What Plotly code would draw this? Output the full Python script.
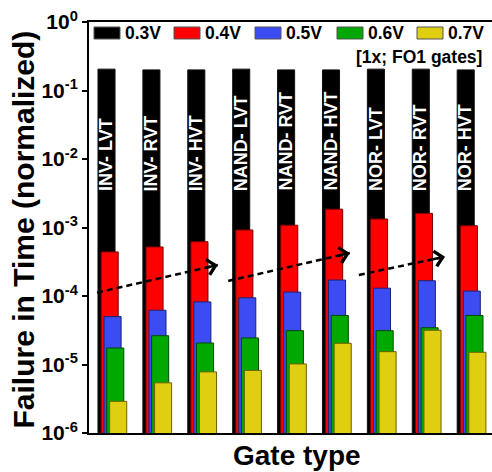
import math
import plotly.graph_objects as go

# ---- data ----
gates = ["INV- LVT", "INV- RVT", "INV- HVT", "NAND- LVT", "NAND- RVT",
         "NAND- HVT", "NOR- LVT", "NOR- RVT", "NOR- HVT"]
voltages = ["0.3V", "0.4V", "0.5V", "0.6V", "0.7V"]
fit_03 = [0.205, 0.200, 0.200, 0.205, 0.200, 0.200, 0.205, 0.205, 0.200]
fit_04 = [4.4e-4, 5.2e-4, 6.2e-4, 9.2e-4, 1.08e-3, 1.85e-3, 1.33e-3, 1.61e-3, 1.06e-3]
fit_05 = [5.0e-5, 6.2e-5, 8.2e-5, 9.4e-5, 1.14e-4, 1.71e-4, 1.30e-4, 1.67e-4, 1.18e-4]
fit_06 = [1.74e-5, 2.63e-5, 2.06e-5, 2.44e-5, 3.12e-5, 5.2e-5, 3.12e-5, 3.44e-5, 5.2e-5]
fit_07 = [2.9e-6, 5.4e-6, 7.8e-6, 8.2e-6, 1.02e-5, 2.04e-5, 1.54e-5, 3.16e-5, 1.51e-5]
series = [fit_03, fit_04, fit_05, fit_06, fit_07]
y_tick_vals = [1e-6, 1e-5, 1e-4, 1e-3, 1e-2, 1e-1, 1e0]
y_tick_text = ["10<sup>-6</sup>", "10<sup>-5</sup>", "10<sup>-4</sup>", "10<sup>-3</sup>",
               "10<sup>-2</sup>", "10<sup>-1</sup>", "10<sup>0</sup>"]
note_text = "[1x; FO1 gates]"
x_title = "Gate type"
y_title = "Failure in Time (normalized)"

# trend arrows: (x_start, y_start, x_end, y_end)
trend_arrows = [(-0.21, 1.12e-4, 2.48, 2.84e-4),
                (2.71, 1.66e-4, 5.42, 4.25e-4),
                (5.62, 2.03e-4, 7.54, 3.75e-4)]

# ---- styles ----
fills = ["#000000", "#FF0000", "#3A4CF2", "#00A800", "#E0CE10"]
edges = ["#111111", "#7A0000", "#1A2470", "#004A00", "#6A6000"]
offsets = [-0.19, -0.12, -0.055, 0.005, 0.07]
BAR_W = 0.38
FONT = "Liberation Sans"

W, H = 492, 472
ML, MR, MT, MB = 89, 0, 22, 39
PW, PH = W - ML - MR, H - MT - MB
PX_PER_X = 44.9
PX_PER_DEC = PH / 6.0


def px_x(p):
    return (p - ML) / PW


def px_y(p):
    return (H - MB - p) / PH


fig = go.Figure()
xs = list(range(len(gates)))
for k, vals in enumerate(series):
    fig.add_trace(go.Bar(
        x=xs, y=vals, name=voltages[k], width=BAR_W, offset=offsets[k],
        marker=dict(color=fills[k], line=dict(color=edges[k], width=1)),
        showlegend=False, hoverinfo="x+y"))

annotations = []
# labels inside black bars
for i, g in enumerate(gates):
    annotations.append(dict(
        x=i, y=-2.496, xref="x", yref="y", text=g, textangle=-90,
        showarrow=False, xanchor="center", yanchor="bottom",
        font=dict(family=FONT, size=18, color="white", weight="bold")))

# dashed trend arrows
for (x0, y0, x1, y1) in trend_arrows:
    fig.add_trace(go.Scatter(
        x=[x0, x1], y=[y0, y1], mode="lines",
        line=dict(color="black", width=2.5, dash="6px,4px"),
        showlegend=False, hoverinfo="skip"))
    ly0, ly1 = math.log10(y0), math.log10(y1)
    dx = (x1 - x0) * PX_PER_X
    dy = -(ly1 - ly0) * PX_PER_DEC
    n = math.hypot(dx, dy)
    tail = 14.0
    annotations.append(dict(
        x=x1, y=ly1, xref="x", yref="y",
        ax=-dx / n * tail, ay=-dy / n * tail,
        showarrow=True, arrowhead=4,
        arrowsize=1.2, arrowwidth=2.5, arrowcolor="black", text="",
        font=dict(size=1)))

# custom legend
sw_left = [94, 174, 255, 337, 417]
for k, v in enumerate(voltages):
    x0 = sw_left[k]
    fig.add_shape(type="rect", xref="paper", yref="paper",
                  x0=px_x(x0), x1=px_x(x0 + 26), y0=px_y(39), y1=px_y(27),
                  fillcolor=fills[k], line=dict(color="#555555", width=1))
    annotations.append(dict(
        x=px_x(x0 + 29), y=px_y(33), xref="paper", yref="paper", text=v,
        showarrow=False, xanchor="left", yanchor="middle",
        font=dict(family=FONT, size=17.5, color="black", weight="bold")))

annotations.append(dict(
    x=px_x(484), y=px_y(57), xref="paper", yref="paper", text=note_text,
    showarrow=False, xanchor="right", yanchor="middle",
    font=dict(family=FONT, size=17.5, color="black", weight="bold")))

# axis titles
annotations.append(dict(
    x=px_x(297), y=px_y(455), xref="paper", yref="paper", text=x_title,
    showarrow=False, xanchor="center", yanchor="middle",
    font=dict(family=FONT, size=28, color="black", weight="bold")))
annotations.append(dict(
    x=px_x(22.5), y=px_y(230), xref="paper", yref="paper", text=y_title,
    showarrow=False, xanchor="center", yanchor="middle", textangle=-90,
    font=dict(family=FONT, size=30, color="black", weight="bold")))

fig.update_layout(
    width=W, height=H,
    margin=dict(l=ML, r=MR, t=MT, b=MB, pad=0),
    paper_bgcolor="white", plot_bgcolor="white",
    barmode="overlay", showlegend=False,
    annotations=annotations,
    xaxis=dict(range=[-0.39, -0.39 + PW / PX_PER_X], showticklabels=False,
               ticks="", showgrid=False, zeroline=False,
               showline=True, linecolor="black", linewidth=2, mirror=True),
    yaxis=dict(type="log", range=[-6, 0], tickvals=y_tick_vals,
               ticktext=y_tick_text, ticks="outside", ticklen=5,
               tickwidth=2, tickcolor="black", showgrid=False,
               zeroline=False, showline=True, linecolor="black",
               linewidth=2,
               tickfont=dict(family=FONT, size=21, color="black", weight="bold")),
)

fig.write_html("out.html")
